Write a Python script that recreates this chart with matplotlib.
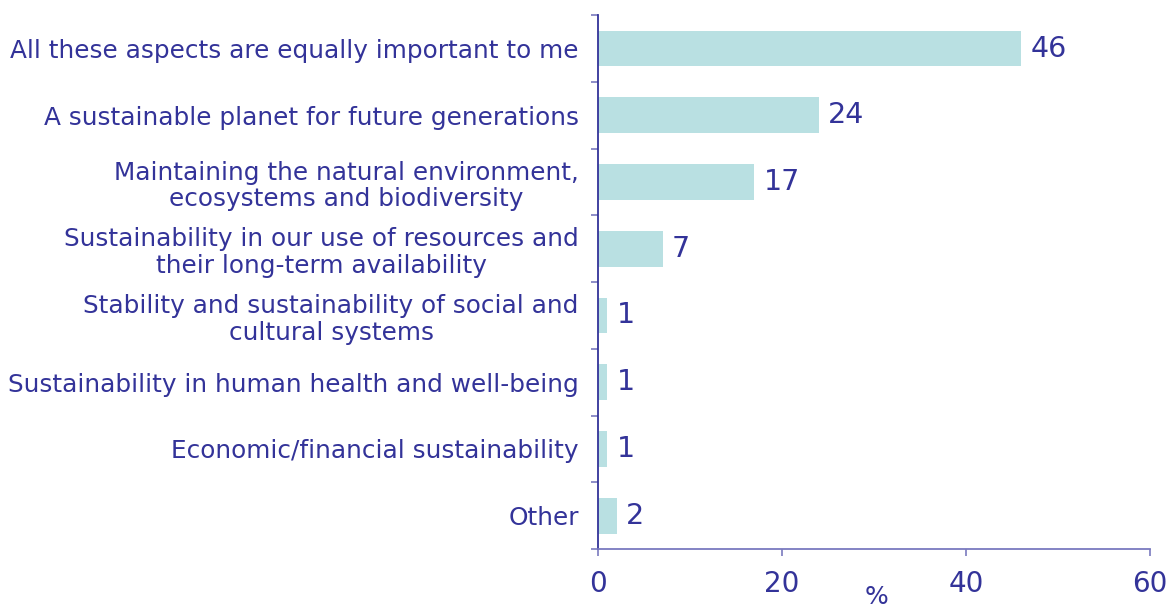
import matplotlib
matplotlib.use('Agg')
import matplotlib.pyplot as plt
import numpy as np

# survey answers, top to bottom
categories = [
    "All these aspects are equally important to me",
    "A sustainable planet for future generations",
    "Maintaining the natural environment,\necosystems and biodiversity",
    "Sustainability in our use of resources and\ntheir long-term availability",
    "Stability and sustainability of social and\ncultural systems",
    "Sustainability in human health and well-being",
    "Economic/financial sustainability",
    "Other",
]
values = [46, 24, 17, 7, 1, 1, 1, 2]
xticks = [0, 20, 40, 60]

text_col = '#333399'
bar_col = '#b9e0e2'
axis_col = '#7a7abf'

fig = plt.figure(figsize=(11.66, 6.08), dpi=100)
ax = fig.add_axes([0.513, 0.097, 0.473, 0.878])

y = np.arange(len(categories))
ax.barh(y, values, height=0.535, color=bar_col, zorder=2)

for yi, v in zip(y, values):
    ax.text(v + 1.0, yi, f"{v}", va='center', ha='left',
            fontsize=20.5, color=text_col)

ax.set_ylim(len(categories) - 0.5, -0.5)
ax.set_xlim(0, 60)

ax.set_yticks(y)
ax.set_yticklabels(categories, fontsize=17.8, color=text_col,
                   linespacing=1.15)
for lbl in ax.get_yticklabels():
    lbl.set_multialignment('center')
ax.tick_params(axis='y', which='major', length=0, pad=14)

# tick marks sit between the categories
ax.set_yticks(np.arange(-0.5, len(categories)), minor=True)
ax.tick_params(axis='y', which='minor', length=5, width=1.2, color=axis_col)

ax.set_xticks(xticks)
ax.set_xticklabels([str(t) for t in xticks], fontsize=20, color=text_col)
ax.tick_params(axis='x', length=5, width=1.2, color=axis_col, pad=10)

for s in ['top', 'right']:
    ax.spines[s].set_visible(False)
ax.spines['left'].set_color(text_col)
ax.spines['left'].set_linewidth(1.3)
ax.spines['bottom'].set_color(axis_col)
ax.spines['bottom'].set_linewidth(1.3)

fig.text(877 / 1166, 1 - 585 / 608, '%', ha='center', va='top',
         fontsize=18, color=text_col)

fig.savefig('out.png', dpi=100, facecolor='white')
plt.close(fig)
